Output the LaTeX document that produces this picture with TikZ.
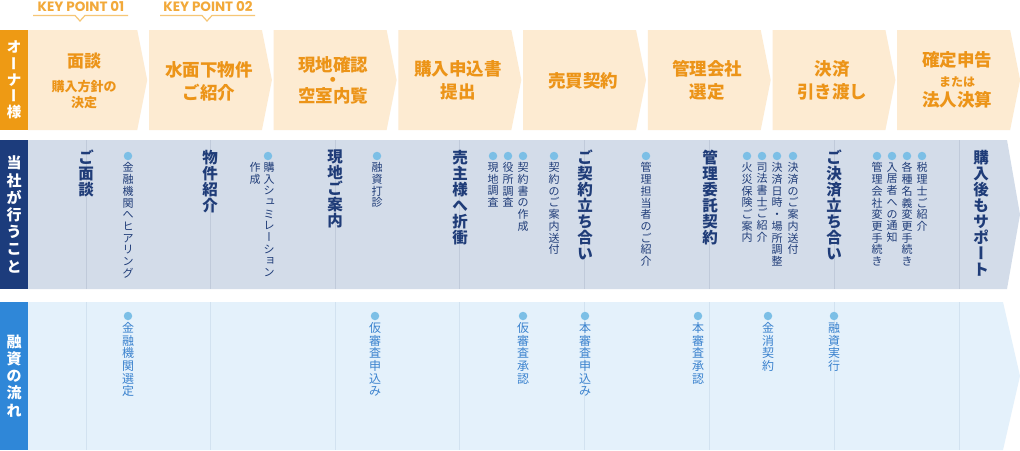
\documentclass[tikz,border=0pt]{standalone}
\usepackage{fontspec}
\usepackage{graphicx}
\setmainfont{Noto Sans CJK JP}
\newfontfamily\kpfont{Poppins}
\usetikzlibrary{positioning}

\definecolor{ownerorange}{HTML}{EE9A14}
\definecolor{chevfill}{HTML}{FDEBD2}
\definecolor{chevtext}{HTML}{EC9418}
\definecolor{keyorange}{HTML}{F2A93A}
\definecolor{keyline}{HTML}{F6C675}
\definecolor{staffnavy}{HTML}{1C3C7C}
\definecolor{stafffill}{HTML}{D3DCE9}
\definecolor{staffline}{HTML}{C0CADA}
\definecolor{stafftext}{HTML}{1F3C78}
\definecolor{loanblue}{HTML}{2F87D8}
\definecolor{loanfill}{HTML}{E4F1FB}
\definecolor{loanline}{HTML}{D2E2F0}
\definecolor{loantext}{HTML}{3A82CE}
\definecolor{dotblue}{HTML}{7CBFE6}

% vertical (tategaki) text: one glyph per line
\makeatletter
\newcommand\vt[2][1.05em]{\vtop{\baselineskip=#1\lineskiplimit=-\maxdimen\lineskip=0pt
  \vt@#2\@nil}}
\def\vt@#1{\ifx\@nil#1\else\vt@ch{#1}\expandafter\vt@\fi}
\def\vt@ch#1{\hbox to 1em{%
  \ifx#1ー\hss\rotatebox[origin=c]{-90}{\raisebox{0pt}[.88em][.12em]{\makebox[1em]{ー}}}\hss
  \else\ifx#1ュ\kern.12em\raise.14em\hbox{ュ}\hss
  \else\ifx#1ョ\kern.12em\raise.14em\hbox{ョ}\hss
  \else\hss#1\hss\fi\fi\fi}}
\makeatother

\begin{document}
\begin{tikzpicture}[x=1pt, y=-1pt,
    % compact styles
    sidebox/.style={rectangle, inner sep=0, minimum width=28pt, text=white, font=\fontsize{15}{18}\selectfont\bfseries},
    chevtitle/.style={inner sep=0, align=center, text=chevtext, font=\fontsize{17.5}{23}\selectfont\bfseries},
    chevsub/.style={inner sep=0, align=center, text=chevtext, font=\fontsize{13}{16.5}\selectfont\bfseries},
    keypt/.style={inner sep=0, text=keyorange, font=\kpfont\bfseries\fontsize{13.5}{15}\selectfont},
    staffmain/.style={anchor=north, inner sep=0, text=stafftext, font=\fontsize{15.5}{18}\selectfont\bfseries},
    staffsub/.style={anchor=north, inner sep=0, text=stafftext, font=\fontsize{11}{13}\selectfont},
    loansub/.style={anchor=north, inner sep=0, text=loantext, font=\fontsize{12}{14}\selectfont},
    dotmark/.style={circle, fill=dotblue, inner sep=0, minimum size=8.5pt}
  ]
    \useasboundingbox (0,0) rectangle (1020,450);
    \fill[white] (0,0) rectangle (1020,450);

    % Top row - owner steps
    \foreach \i in {0,...,7}{
      \pgfmathsetmacro\L{\i==0 ? 28 : 24.3+124.7*\i}
      \pgfmathsetmacro\T{147.2+124.7*\i}
      \fill[chevfill] (\L,30) -- (\T-10,30) -- (\T,80) -- (\T-10,130) -- (\L,130) -- cycle;
    }

    % Middle and bottom rows
    \fill[stafffill] (28,140) -- (1007,140) -- (1020,214.5) -- (1007,289) -- (28,289) -- cycle;
    \fill[loanfill] (28,302) -- (1003,302) -- (1020,376) -- (1003,450) -- (28,450) -- cycle;
    \foreach \x in {86,210,335,459,584,709,834,959}{
      \draw[staffline] (\x,140) -- (\x,289);
      \draw[loanline] (\x,302) -- (\x,450);
    }

    % Row labels
    \node[sidebox, fill=ownerorange, minimum height=100pt, font=\fontsize{14.5}{17}\selectfont\bfseries] (owner) at (14,80) {\vt[16.3pt]{オーナー様}};
    \node[sidebox, fill=staffnavy, minimum height=149pt] (staff) at (14,214.5) {\vt[17.2pt]{当社が行うこと}};
    \node[sidebox, fill=loanblue, minimum height=148pt] (loan) at (14,376) {\vt[17.1pt]{融資の流れ}};

    % Key points
    \node[keypt] (kp1) at (81,7) {KEY POINT 01};
    \node[keypt] (kp2) at (208,7) {KEY POINT 02};
    \draw[keyline, line width=1.2pt] (33,15.5) -- (75,15.5) -- (80,21) -- (85,15.5) -- (128,15.5);
    \draw[keyline, line width=1.2pt] (160,15.5) -- (202,15.5) -- (207,21) -- (212,15.5) -- (255,15.5);

    % Step titles
    \node[chevtitle, font=\fontsize{17}{23}\selectfont\bfseries] (t1) at (84,61.5) {面談};
    \node[chevsub, below=10pt of t1] (t1sub) {購入方針の\\決定};
    \node[chevtitle] (t2) at (209,81) {水面下物件\\ご紹介};
    \node[chevtitle, font=\fontsize{17.5}{15.5}\selectfont\bfseries] (t3) at (333,80) {現地確認\\・\\空室内覧};
    \node[chevtitle] (t4) at (458,80.5) {購入申込書\\提出};
    \node[chevtitle] (t5) at (583,80.5) {売買契約};
    \node[chevtitle] (t6) at (707,80.5) {管理会社\\選定};
    \node[chevtitle] (t7) at (832,80.5) {決済\\引き渡し};
    \node[chevtitle, font=\fontsize{17.5}{20}\selectfont\bfseries] (t8) at (957,80) {確定申告\\{\fontsize{12}{20}\selectfont または}\\法人決算};

    % What we do - main items
    \node[staffmain] (m1) at (86,150) {\vt[16pt]{ご面談}};
    \node[staffmain] (m2) at (210,150) {\vt[16pt]{物件紹介}};
    \node[staffmain] (m3) at (335,150) {\vt[16pt]{現地ご案内}};
    \node[staffmain] (m4) at (460,150) {\vt[16pt]{売主様へ折衝}};
    \node[staffmain] (m5) at (585,150) {\vt[16pt]{ご契約立ち合い}};
    \node[staffmain] (m6) at (710,150) {\vt[16pt]{管理委託契約}};
    \node[staffmain] (m7) at (834,150) {\vt[16pt]{ご決済立ち合い}};
    \node[staffmain] (m8) at (981,150) {\vt[16pt]{購入後もサポート}};

    % What we do - details
    \node[dotmark] (d1) at (128,156) {};
    \node[staffsub, below=2pt of d1] (s1) {\vt[11.7pt]{金融機関へヒアリング}};
    \node[dotmark] (d2) at (268,156) {};
    \node[staffsub] (s2) at (262,162) {\hbox{\vt[11.7pt]{作成}\hskip3pt\vt[11.7pt]{購入シュミレーション}}};
    \node[dotmark] (d3) at (377,156) {};
    \node[staffsub, below=2pt of d3] (s3) {\vt[11.7pt]{融資打診}};
    \node[dotmark] (d4) at (493,156) {};
    \node[staffsub, below=2pt of d4] (s4) {\vt[11.7pt]{現地調査}};
    \node[dotmark] (d5) at (508,156) {};
    \node[staffsub, below=2pt of d5] (s5) {\vt[11.7pt]{役所調査}};
    \node[dotmark] (d6) at (523,156) {};
    \node[staffsub, below=2pt of d6] (s6) {\vt[11.7pt]{契約書の作成}};
    \node[dotmark] (d7) at (554,156) {};
    \node[staffsub, below=2pt of d7] (s7) {\vt[11.7pt]{契約のご案内送付}};
    \node[dotmark] (d8) at (646,156) {};
    \node[staffsub, below=2pt of d8] (s8) {\vt[11.7pt]{管理担当者のご紹介}};
    \node[dotmark] (d9) at (747,156) {};
    \node[staffsub, below=2pt of d9] (s9) {\vt[11.7pt]{火災保険ご案内}};
    \node[dotmark] (d10) at (762,156) {};
    \node[staffsub, below=2pt of d10] (s10) {\vt[11.7pt]{司法書士ご紹介}};
    \node[dotmark] (d11) at (777,156) {};
    \node[staffsub, below=2pt of d11] (s11) {\vt[11.7pt]{決済日時・場所調整}};
    \node[dotmark] (d12) at (793,156) {};
    \node[staffsub, below=2pt of d12] (s12) {\vt[11.7pt]{決済のご案内送付}};
    \node[dotmark] (d13) at (877,156) {};
    \node[staffsub, below=2pt of d13] (s13) {\vt[11.7pt]{管理会社変更手続き}};
    \node[dotmark] (d14) at (892,156) {};
    \node[staffsub, below=2pt of d14] (s14) {\vt[11.7pt]{入居者への通知}};
    \node[dotmark] (d15) at (907,156) {};
    \node[staffsub, below=2pt of d15] (s15) {\vt[11.7pt]{各種名義変更手続き}};
    \node[dotmark] (d16) at (922,156) {};
    \node[staffsub, below=2pt of d16] (s16) {\vt[11.7pt]{税理士ご紹介}};

    % Loan flow
    \node[dotmark] (e1) at (128,316) {};
    \node[loansub, below=2pt of e1] (f1) {\vt[12.6pt]{金融機関選定}};
    \node[dotmark] (e2) at (375,316) {};
    \node[loansub, below=2pt of e2] (f2) {\vt[12.6pt]{仮審査申込み}};
    \node[dotmark] (e3) at (523,316) {};
    \node[loansub, below=2pt of e3] (f3) {\vt[12.6pt]{仮審査承認}};
    \node[dotmark] (e4) at (585,316) {};
    \node[loansub, below=2pt of e4] (f4) {\vt[12.6pt]{本審査申込み}};
    \node[dotmark] (e5) at (698,316) {};
    \node[loansub, below=2pt of e5] (f5) {\vt[12.6pt]{本審査承認}};
    \node[dotmark] (e6) at (768,316) {};
    \node[loansub, below=2pt of e6] (f6) {\vt[12.6pt]{金消契約}};
    \node[dotmark] (e7) at (834,316) {};
    \node[loansub, below=2pt of e7] (f7) {\vt[12.6pt]{融資実行}};

\end{tikzpicture}
\end{document}
